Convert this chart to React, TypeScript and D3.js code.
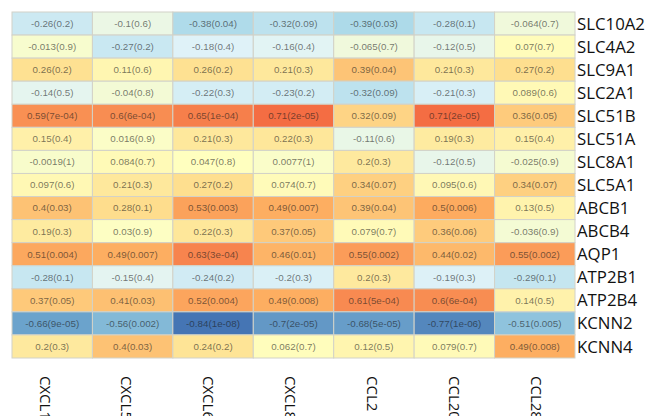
import React from "react";
import * as d3 from "d3";

const genes = [
  "SLC10A2", "SLC4A2", "SLC9A1", "SLC2A1", "SLC51B", "SLC51A", "SLC8A1", "SLC5A1",
  "ABCB1", "ABCB4", "AQP1", "ATP2B1", "ATP2B4", "KCNN2", "KCNN4",
];

const chemokines = ["CXCL1", "CXCL5", "CXCL6", "CXCL8", "CCL2", "CCL20", "CCL28"];

// Correlation coefficients, one row per gene, one column per chemokine
const correlations: number[][] = [
  [-0.26, -0.1, -0.38, -0.32, -0.39, -0.28, -0.064],
  [-0.013, -0.27, -0.18, -0.16, -0.065, -0.12, 0.07],
  [0.26, 0.11, 0.26, 0.21, 0.39, 0.21, 0.27],
  [-0.14, -0.04, -0.22, -0.23, -0.32, -0.21, 0.089],
  [0.59, 0.6, 0.65, 0.71, 0.32, 0.71, 0.36],
  [0.15, 0.016, 0.21, 0.22, -0.11, 0.19, 0.15],
  [-0.0019, 0.084, 0.047, 0.0077, 0.2, -0.12, -0.025],
  [0.097, 0.21, 0.27, 0.074, 0.34, 0.095, 0.34],
  [0.4, 0.28, 0.53, 0.49, 0.39, 0.5, 0.13],
  [0.19, 0.03, 0.22, 0.37, 0.079, 0.36, -0.036],
  [0.51, 0.49, 0.63, 0.46, 0.55, 0.44, 0.55],
  [-0.28, -0.15, -0.24, -0.2, 0.2, -0.19, -0.29],
  [0.37, 0.41, 0.52, 0.49, 0.61, 0.6, 0.14],
  [-0.66, -0.56, -0.84, -0.7, -0.68, -0.77, -0.51],
  [0.2, 0.4, 0.24, 0.062, 0.12, 0.079, 0.49],
];

// P-values as printed in each cell
const pValues: string[][] = [
  ["0.2", "0.6", "0.04", "0.09", "0.03", "0.1", "0.7"],
  ["0.9", "0.2", "0.4", "0.4", "0.7", "0.5", "0.7"],
  ["0.2", "0.6", "0.2", "0.3", "0.04", "0.3", "0.2"],
  ["0.5", "0.8", "0.3", "0.2", "0.09", "0.3", "0.6"],
  ["7e-04", "6e-04", "1e-04", "2e-05", "0.09", "2e-05", "0.05"],
  ["0.4", "0.9", "0.3", "0.3", "0.6", "0.3", "0.4"],
  ["1", "0.7", "0.8", "1", "0.3", "0.5", "0.9"],
  ["0.6", "0.3", "0.2", "0.7", "0.07", "0.6", "0.07"],
  ["0.03", "0.1", "0.003", "0.007", "0.04", "0.006", "0.5"],
  ["0.3", "0.9", "0.3", "0.05", "0.7", "0.06", "0.9"],
  ["0.004", "0.007", "3e-04", "0.01", "0.002", "0.02", "0.002"],
  ["0.1", "0.4", "0.2", "0.3", "0.3", "0.3", "0.1"],
  ["0.05", "0.03", "0.004", "0.008", "5e-04", "6e-04", "0.5"],
  ["9e-05", "0.002", "1e-08", "2e-05", "5e-05", "1e-06", "0.005"],
  ["0.3", "0.03", "0.2", "0.7", "0.5", "0.7", "0.008"],
];

const palette = ["#4575b4", "#74add1", "#abd9e9", "#e0f3f8", "#ffffbf", "#fee090", "#fdae61", "#f46d43"];

const W = 645;
const H = 416;
const grid = { left: 12, right: 575, top: 12, bottom: 358 };

export default function App() {
  const x = d3.scaleBand<string>().domain(chemokines).range([grid.left, grid.right]);
  const y = d3.scaleBand<string>().domain(genes).range([grid.top, grid.bottom]);
  // column captions sit on a slightly wider spacing than the cells
  const xLabel = d3.scalePoint<string>().domain(chemokines).range([38, 529]);

  const all = correlations.flat();
  const lo = d3.min(all) as number;
  const hi = d3.max(all) as number;
  const color = d3
    .scaleLinear<string>()
    .domain(palette.map((_, i) => lo + ((hi - lo) * i) / (palette.length - 1)))
    .range(palette)
    .interpolate(d3.interpolateRgb);

  return (
    <div style={{ position: "fixed", left: 0, top: 0 }}>
      <svg width={W} height={H} style={{ display: "block", background: "#fff" }}>
        <g>
          {genes.map((g, ri) =>
            chemokines.map((c, ci) => {
              const r = correlations[ri][ci];
              return (
                <g key={g + c}>
                  <rect
                    x={x(c)}
                    y={y(g)}
                    width={x.bandwidth()}
                    height={y.bandwidth()}
                    fill={color(r)}
                    stroke="#d2d2c8"
                    strokeWidth={1}
                  />
                  <text
                    x={(x(c) as number) + x.bandwidth() / 2}
                    y={(y(g) as number) + y.bandwidth() / 2}
                    dy="0.35em"
                    textAnchor="middle"
                    fontFamily="'Liberation Sans', Arial, sans-serif"
                    fontSize={9.8}
                    fill="#1a1a1a"
                    fillOpacity={0.6}
                  >
                    {`${r}(${pValues[ri][ci]})`}
                  </text>
                </g>
              );
            })
          )}
        </g>
        <g fontFamily="'Open Sans', sans-serif" fill="#111">
          {genes.map((g) => (
            <text
              key={g}
              x={grid.right + 2}
              y={(y(g) as number) + y.bandwidth() / 2}
              dy="0.36em"
              fontSize={16.8}
            >
              {g}
            </text>
          ))}
          {chemokines.map((c) => (
            <text
              key={c}
              transform={`translate(${xLabel(c)},376) rotate(90)`}
              dy="-0.1em"
              fontSize={15}
            >
              {c}
            </text>
          ))}
        </g>
      </svg>
    </div>
  );
}
